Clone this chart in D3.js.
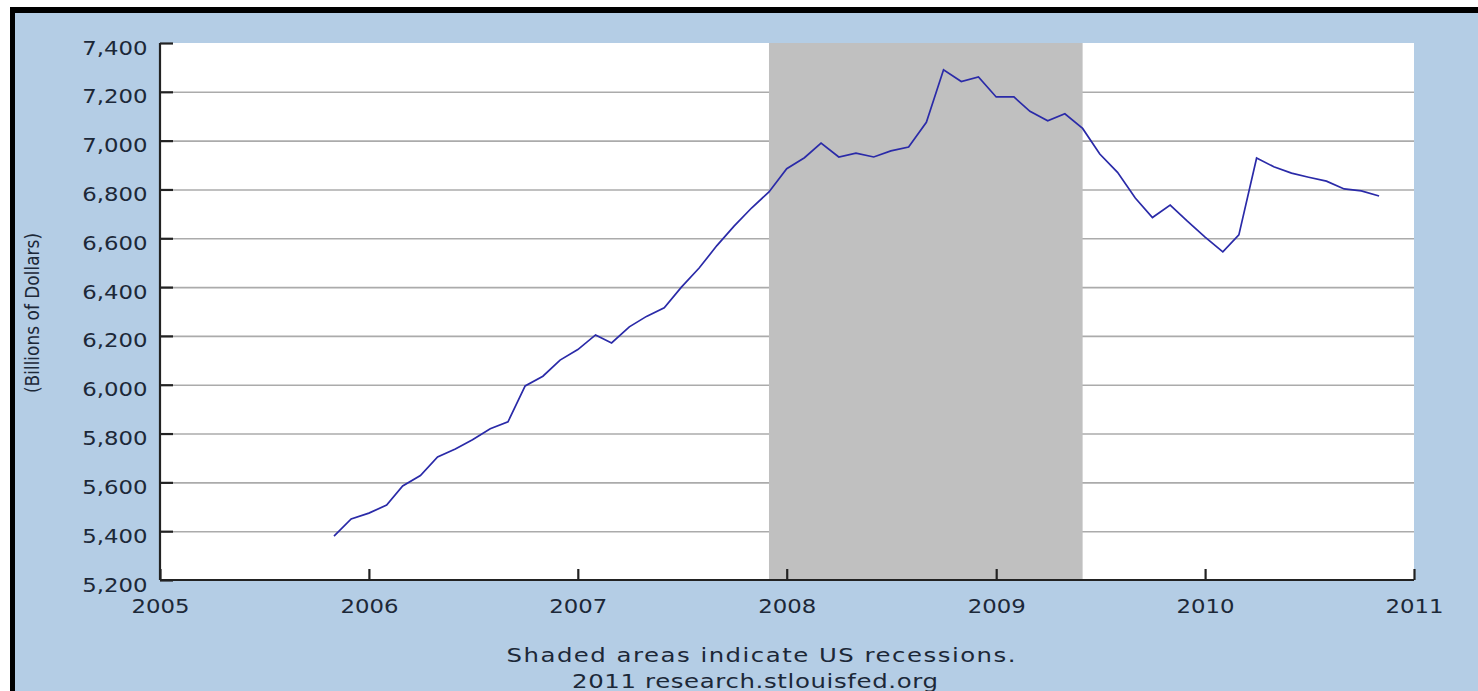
<!DOCTYPE html>
<html>
<head>
<meta charset="utf-8">
<title>Billions of Dollars</title>
<script src="https://d3js.org/d3.v7.min.js"></script>
<style>
  body { margin: 0; background: white; }
  text { font-family: "DejaVu Sans", Verdana, sans-serif; fill: #1c2838; }
</style>
</head>
<body>
<script>
// monthly values, Nov 2005 .. Nov 2010
const startMonth = [2005, 10];
const values = [
  5380, 5450, 5474, 5507, 5585, 5628, 5704, 5737, 5775, 5820, 5848, 5995,
  6035, 6101, 6144, 6204, 6171, 6237, 6280, 6315, 6400, 6478, 6570, 6650,
  6725, 6790, 6885, 6930, 6990, 6933, 6949, 6933, 6958, 6974, 7075, 7290,
  7242, 7261, 7179, 7179, 7120, 7081, 7110, 7050, 6945, 6870, 6765, 6685,
  6736, 6670, 6605, 6544, 6614, 6929, 6893, 6867, 6850, 6834, 6802, 6794,
  6773
];
const yTicks = [5200, 5400, 5600, 5800, 6000, 6200, 6400, 6600, 6800, 7000, 7200, 7400];
const xTicks = [2005, 2006, 2007, 2008, 2009, 2010, 2011];
const recession = [new Date(2007, 11, 1), new Date(2009, 5, 1)];
const yTitle = "(Billions of Dollars)";
const footer = ["Shaded areas indicate US recessions.", "2011 research.stlouisfed.org"];

const data = values.map((v, i) => ({ date: new Date(startMonth[0], startMonth[1] + i, 1), value: v }));

const width = 1478, height = 691;
const plotL = 160, plotR = 1414, plotT = 43, plotB = 580;
const sx = 1.14;
const stretch = "scale(" + sx + ",1)";

const svg = d3.select("body").append("svg")
  .attr("width", width).attr("height", height);

// frame
svg.append("rect").attr("x", 10).attr("y", 7).attr("width", width).attr("height", height)
  .attr("fill", "#000");
svg.append("rect").attr("x", 15).attr("y", 13).attr("width", width).attr("height", height)
  .attr("fill", "#b4cde5");

const x = d3.scaleTime()
  .domain([new Date(2005, 0, 1), new Date(2011, 0, 1)])
  .range([plotL, plotR]);
const y = d3.scaleLinear().domain([5200, 7400]).range([plotB, plotT]);

svg.append("rect").attr("x", plotL).attr("y", plotT)
  .attr("width", plotR - plotL).attr("height", plotB - plotT).attr("fill", "#fff");

// gridlines
svg.append("g")
  .attr("transform", "translate(" + plotL + ",0)")
  .call(d3.axisLeft(y).tickValues(yTicks.slice(1, -1)).tickSize(-(plotR - plotL)).tickFormat(""))
  .call(g => g.select(".domain").remove())
  .call(g => g.selectAll("line").attr("stroke", "#ababab").attr("stroke-width", 1.6));

// recession band
svg.append("rect")
  .attr("x", x(recession[0])).attr("y", plotT)
  .attr("width", x(recession[1]) - x(recession[0])).attr("height", plotB - plotT)
  .attr("fill", "#c0c0c0");

// series
const line = d3.line().x(d => x(d.date)).y(d => y(d.value));
svg.append("path").datum(data)
  .attr("fill", "none").attr("stroke", "#2a2aa8").attr("stroke-width", 1.7)
  .attr("d", line);

// y axis
const yAxis = svg.append("g")
  .attr("transform", "translate(" + plotL + ",0)")
  .call(d3.axisLeft(y).tickValues(yTicks).tickSize(-13).tickPadding(11).tickFormat(d3.format(",")));
yAxis.select(".domain").attr("stroke", "#222").attr("stroke-width", 2.2).attr("d", "M0," + plotT + "V" + plotB);
yAxis.selectAll("line").attr("stroke", "#222").attr("stroke-width", 2.2);
yAxis.selectAll("text").attr("font-size", 20).attr("dy", "0.75em").attr("y", -4)
  .attr("transform", stretch);

// x axis
const xAxis = svg.append("g")
  .attr("transform", "translate(0," + plotB + ")")
  .call(d3.axisBottom(x).tickValues(xTicks.map(d => new Date(d, 0, 1))).tickSize(-11).tickFormat(d3.timeFormat("%Y")));
xAxis.select(".domain").attr("stroke", "#222").attr("stroke-width", 2.2).attr("d", "M" + plotL + ",0H" + plotR);
xAxis.selectAll("line").attr("stroke", "#222").attr("stroke-width", 2.2);
xAxis.selectAll("text").attr("font-size", 20).attr("y", 33).attr("dy", 0)
  .attr("transform", stretch);

// axis title
svg.append("text")
  .attr("transform", "translate(39," + 313 + ") rotate(-90) scale(1,1.1)")
  .attr("text-anchor", "middle").attr("font-size", 17)
  .text(yTitle);

// footer (wide glyphs in the original)
const footerPos = [[761, 662, 509], [755, 688, 366]];
footer.forEach((t, i) => {
  const p = footerPos[i];
  svg.append("text")
    .attr("transform", "translate(" + p[0] + "," + p[1] + ") scale(1.22,1)")
    .attr("text-anchor", "middle").attr("font-size", 20)
    .attr("textLength", p[2] / 1.22).attr("lengthAdjust", "spacing")
    .text(t);
});
</script>
</body>
</html>
